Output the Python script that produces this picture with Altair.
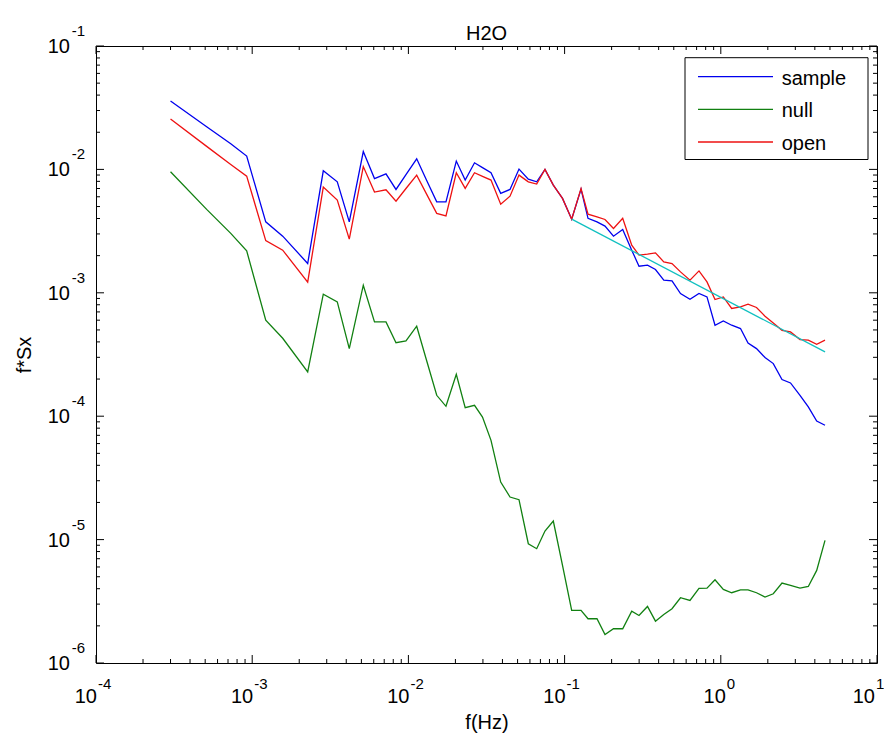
import altair as alt
import pandas as pd

# ---------------- data ----------------
freq = [3.0e-4, 5.11e-4, 7.29e-4, 9.22e-4, 1.221e-3, 1.568e-3, 2.266e-3, 2.852e-3, 3.505e-3, 4.183e-3,
        5.143e-3, 6.067e-3, 7.187e-3, 8.33e-3, 9.65e-3, 1.130e-2, 1.305e-2, 1.518e-2, 1.740e-2, 2.026e-2,
        2.310e-2, 2.650e-2, 2.981e-2, 3.379e-2, 3.899e-2, 4.472e-2, 5.106e-2, 5.857e-2, 6.628e-2, 7.488e-2,
        8.467e-2, 9.696e-2, 0.1110, 0.1274, 0.1412, 0.1612, 0.1814, 0.2056, 0.2355, 0.2690,
        0.2995, 0.3394, 0.3818, 0.4315, 0.4871, 0.5521, 0.6349, 0.7250, 0.8158, 0.9182,
        1.038, 1.174, 1.337, 1.494, 1.693, 1.919, 2.168, 2.465, 2.794, 3.214,
        3.633, 4.111, 4.647]

sample = [3.58e-2, 2.22e-2, 1.616e-2, 1.282e-2, 3.758e-3, 2.877e-3, 1.728e-3, 9.74e-3, 7.93e-3, 3.758e-3,
          1.395e-2, 8.42e-3, 9.21e-3, 6.88e-3, 9.07e-3, 1.219e-2, 8.22e-3, 5.46e-3, 5.46e-3, 1.168e-2,
          8.19e-3, 1.131e-2, 1.034e-2, 9.39e-3, 6.39e-3, 6.88e-3, 1.006e-2, 8.34e-3, 7.93e-3, 1.0e-2,
          7.46e-3, 5.82e-3, 3.95e-3, 6.92e-3, 4.01e-3, 3.758e-3, 3.47e-3, 2.877e-3, 3.26e-3, 2.216e-3,
          1.643e-3, 1.674e-3, 1.545e-3, 1.265e-3, 1.249e-3, 9.87e-4, 8.87e-4, 9.87e-4, 9.26e-4, 5.46e-4,
          5.92e-4, 5.46e-4, 5.13e-4, 3.92e-4, 3.53e-4, 2.99e-4, 2.67e-4, 1.98e-4, 1.86e-4, 1.477e-4,
          1.188e-4, 9.14e-5, 8.44e-5]

null = [9.56e-3, 4.74e-3, 3.03e-3, 2.187e-3, 5.99e-4, 4.28e-4, 2.284e-4, 9.74e-4, 8.44e-4, 3.53e-4,
        1.152e-3, 5.81e-4, 5.81e-4, 3.94e-4, 4.07e-4, 5.36e-4, 2.851e-4, 1.477e-4, 1.203e-4, 2.187e-4,
        1.174e-4, 1.226e-4, 9.85e-5, 6.37e-5, 2.925e-5, 2.212e-5, 2.107e-5, 9.26e-6, 8.44e-6, 1.172e-5,
        1.413e-5, 6.18e-6, 2.666e-6, 2.666e-6, 2.283e-6, 2.283e-6, 1.703e-6, 1.894e-6, 1.894e-6, 2.631e-6,
        2.428e-6, 2.872e-6, 2.183e-6, 2.474e-6, 2.751e-6, 3.379e-6, 3.212e-6, 4.02e-6, 4.04e-6, 4.73e-6,
        3.95e-6, 3.71e-6, 3.92e-6, 3.92e-6, 3.71e-6, 3.42e-6, 3.64e-6, 4.44e-6, 4.25e-6, 4.04e-6,
        4.17e-6, 5.63e-6, 9.85e-6]

open_ = [2.558e-2, 1.537e-2, 1.094e-2, 8.82e-3, 2.646e-3, 2.216e-3, 1.219e-3, 7.19e-3, 5.64e-3, 2.721e-3,
         1.054e-2, 6.55e-3, 6.83e-3, 5.53e-3, 7.00e-3, 8.99e-3, 6.33e-3, 4.40e-3, 4.20e-3, 9.39e-3,
         7.01e-3, 9.39e-3, 8.79e-3, 8.19e-3, 5.23e-3, 6.07e-3, 8.99e-3, 7.93e-3, 7.60e-3, 1.0e-2,
         7.46e-3, 5.82e-3, 3.95e-3, 6.99e-3, 4.34e-3, 4.13e-3, 3.93e-3, 3.32e-3, 4.01e-3, 2.432e-3,
         2.018e-3, 2.056e-3, 2.107e-3, 1.780e-3, 1.728e-3, 1.477e-3, 1.265e-3, 1.505e-3, 1.226e-3, 8.82e-4,
         9.26e-4, 7.46e-4, 7.68e-4, 8.08e-4, 7.60e-4, 6.46e-4, 5.70e-4, 4.97e-4, 4.82e-4, 4.18e-4,
         4.13e-4, 3.83e-4, 4.13e-4]

fit_freq = [0.111, 4.65]
fit_val = [3.95e-3, 3.32e-4]

series_names = ["sample", "null", "open"]
series_colors = ["#0000ee", "#118011", "#ee1111"]
fit_color = "#10c0c0"

x_exponents = [-4, -3, -2, -1, 0, 1]
y_exponents = [-6, -5, -4, -3, -2, -1]
minor_mult = [2, 3, 4, 5, 6, 7, 8, 9]

title_text = "H2O"
x_title = "f(Hz)"
y_title = "f*Sx"

# ---------------- layout / style ----------------
W, H = 781, 617
FONT = "Liberation Sans"
FS = 20

xs = alt.Scale(type="log", domain=[1e-4, 10], nice=False)
ys = alt.Scale(type="log", domain=[1e-6, 1e-1], nice=False)

xaxis = alt.Axis(title=x_title, labels=False, ticks=False, domain=False, grid=False,
                 titlePadding=49, titleFontSize=FS, titleFont=FONT, titleFontWeight="normal",
                 titleColor="black")
yaxis = alt.Axis(title=y_title, labels=False, ticks=False, domain=False, grid=False,
                 titlePadding=62, titleFontSize=FS, titleFont=FONT, titleFontWeight="normal",
                 titleColor="black")


def X(field):
    return alt.X(field, type="quantitative", scale=xs, axis=xaxis)


def Y(field):
    return alt.Y(field, type="quantitative", scale=ys, axis=yaxis)


layers = []

# data lines (plot order: sample, null, open, fit)
for name, vals, col in zip(series_names, [sample, null, open_], series_colors):
    df = pd.DataFrame({"f": freq, "v": vals})
    layers.append(alt.Chart(df).mark_line(color=col, strokeWidth=1.3).encode(x=X("f"), y=Y("v")))

fit_df = pd.DataFrame({"f": fit_freq, "v": fit_val})
layers.append(alt.Chart(fit_df).mark_line(color=fit_color, strokeWidth=1.3).encode(x=X("f"), y=Y("v")))

# ticks (inside, on all four sides)
x_major = [10.0 ** e for e in x_exponents]
y_major = [10.0 ** e for e in y_exponents]
x_minor = [m * 10.0 ** e for e in x_exponents[:-1] for m in minor_mult]
y_minor = [m * 10.0 ** e for e in y_exponents[:-1] for m in minor_mult]

for ticks, ln in [(x_major, 8), (x_minor, 4)]:
    d = pd.DataFrame({"f": ticks})
    layers.append(alt.Chart(d).mark_rule(color="black", strokeWidth=1).encode(
        x=X("f"), y=alt.value(H), y2=alt.value(H - ln)))
    layers.append(alt.Chart(d).mark_rule(color="black", strokeWidth=1).encode(
        x=X("f"), y=alt.value(0), y2=alt.value(ln)))
for ticks, ln in [(y_major, 8), (y_minor, 4)]:
    d = pd.DataFrame({"v": ticks})
    layers.append(alt.Chart(d).mark_rule(color="black", strokeWidth=1).encode(
        y=Y("v"), x=alt.value(0), x2=alt.value(ln)))
    layers.append(alt.Chart(d).mark_rule(color="black", strokeWidth=1).encode(
        y=Y("v"), x=alt.value(W), x2=alt.value(W - ln)))

# tick labels: "10" with superscript exponent
xl = pd.DataFrame({"f": x_major, "e": [str(e) for e in x_exponents], "n": x_exponents})
for cond, dxb in [("datum.n < 0", 1), ("datum.n == 0", 5), ("datum.n > 0", -2)]:
    layers.append(alt.Chart(xl).transform_filter(cond).mark_text(
        text="10", align="right", baseline="alphabetic", dx=dxb, fontSize=FS, font=FONT, color="black"
    ).encode(x=X("f"), y=alt.value(H + 40)))
    layers.append(alt.Chart(xl).transform_filter(cond).mark_text(
        align="left", baseline="alphabetic", dx=dxb + 1, fontSize=15, font=FONT, color="black"
    ).encode(x=X("f"), y=alt.value(H + 26), text="e:N"))

yl = pd.DataFrame({"v": y_major, "e": [str(e) for e in y_exponents]})
layers.append(alt.Chart(yl).mark_text(
    text="10", align="right", baseline="alphabetic", dy=7, fontSize=FS, font=FONT, color="black"
).encode(y=Y("v"), x=alt.value(-26)))
layers.append(alt.Chart(yl).mark_text(
    align="right", baseline="alphabetic", dy=-10, fontSize=15, font=FONT, color="black"
).encode(y=Y("v"), x=alt.value(-11), text="e:N"))

# title
one = pd.DataFrame({"a": [0]})
layers.append(alt.Chart(pd.DataFrame({"t": [title_text]})).mark_text(
    align="center", baseline="alphabetic", fontSize=FS, font=FONT, color="black"
).encode(x=alt.value(W / 2), y=alt.value(-6), text="t:N"))

# legend (MATLAB style box, top-right)
layers.append(alt.Chart(one).mark_rect(fill="white", stroke="black", strokeWidth=1).encode(
    x=alt.value(589), x2=alt.value(772), y=alt.value(11.7), y2=alt.value(113.5)))
for i, (name, col) in enumerate(zip(series_names, series_colors)):
    ly = 30.7 + 32.65 * i
    layers.append(alt.Chart(one).mark_rule(color=col, strokeWidth=1.3).encode(
        x=alt.value(602), x2=alt.value(677), y=alt.value(ly)))
    layers.append(alt.Chart(pd.DataFrame({"name": [name]})).mark_text(
        align="left", baseline="middle", fontSize=FS, font=FONT, color="black"
    ).encode(x=alt.value(685.7), y=alt.value(ly + 2), text="name:N"))

chart = alt.layer(*layers).properties(
    width=W, height=H,
    autosize=alt.AutoSizeParams(type="none"),
    padding={"left": 88, "top": 38, "right": 7, "bottom": 70},
).configure_view(stroke="black", strokeWidth=1)

chart.save("out.html", embed_options={"renderer": "svg", "actions": False})
